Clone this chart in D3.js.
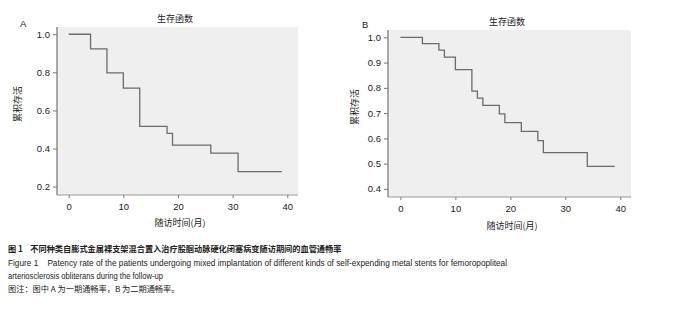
<!DOCTYPE html>
<html>
<head>
<meta charset="utf-8">
<script src="https://cdn.jsdelivr.net/npm/d3@7"></script>
<style>
  body { margin: 0; background: #fff; }
  svg { display: block; font-family: "Liberation Sans", Arial, sans-serif; }
  .cjk { font-family: "Noto Sans CJK SC", sans-serif; }
</style>
</head>
<body>
<svg id="chart"></svg>
<script>
const width = 677;
const height = 311;

// panel A: first-stage patency (time in months, cumulative survival)
const timesA = [0, 4, 7, 10, 13, 18, 19, 26, 31, 39];
const survA  = [1.0, 0.923, 0.797, 0.717, 0.516, 0.48, 0.418, 0.376, 0.279, 0.279];
const yTicksA = [0.2, 0.4, 0.6, 0.8, 1.0];

// panel B: second-stage patency
const timesB = [0, 4, 7, 8, 10, 13, 14, 15, 18, 19, 22, 25, 26, 34, 39];
const survB  = [1.0, 0.975, 0.949, 0.922, 0.872, 0.787, 0.759, 0.731, 0.697, 0.662, 0.628, 0.591, 0.544, 0.489, 0.489];
const yTicksB = [0.4, 0.5, 0.6, 0.7, 0.8, 0.9, 1.0];

const xTicks = [0, 10, 20, 30, 40];

const title = "生存函数";
const yLabel = "累积存活";
const xLabel = "随访时间(月)";

const svg = d3.select("#chart")
  .attr("width", width)
  .attr("height", height);

function drawPanel(opt) {
  const g = svg.append("g");
  const x = d3.scaleLinear().domain(opt.xDomain).range([opt.left, opt.right]);
  const y = d3.scaleLinear().domain(opt.yDomain).range([opt.bottom, opt.top]);

  // plot background
  g.append("rect")
    .attr("x", opt.left).attr("y", opt.top)
    .attr("width", opt.right - opt.left)
    .attr("height", opt.bottom - opt.top)
    .attr("fill", "#efefef");

  // y axis
  const yAxis = g.append("g")
    .attr("transform", `translate(${opt.left},0)`)
    .call(d3.axisLeft(y).tickValues(opt.yTicks).tickFormat(d3.format(".1f")).tickSize(4).tickPadding(3));
  yAxis.select(".domain").attr("stroke", "#a8a8a8").attr("stroke-width", 2)
    .attr("d", `M0,${opt.top}V${opt.bottom}`);
  yAxis.selectAll(".tick line").attr("stroke", "#777");
  yAxis.selectAll(".tick text").attr("fill", "#222").attr("font-size", 9.5)
    .attr("font-family", "Liberation Sans, Arial, sans-serif");

  // x axis
  const xAxis = g.append("g")
    .attr("transform", `translate(0,${opt.bottom})`)
    .call(d3.axisBottom(x).tickValues(xTicks).tickSize(3).tickPadding(5));
  xAxis.select(".domain").attr("stroke", "#999").attr("stroke-width", 1)
    .attr("d", `M${opt.left},0H${opt.right}`);
  xAxis.selectAll(".tick line").attr("stroke", "#777");
  xAxis.selectAll(".tick text").attr("fill", "#222").attr("font-size", 9.5)
    .attr("font-family", "Liberation Sans, Arial, sans-serif");

  // step survival curve
  const pts = opt.times.map((t, i) => [t, opt.surv[i]]);
  const line = d3.line()
    .x(d => x(d[0]))
    .y(d => y(d[1]))
    .curve(d3.curveStepAfter);
  g.append("path")
    .datum(pts)
    .attr("fill", "none")
    .attr("stroke", "#6c6c6c")
    .attr("stroke-width", 1.3)
    .attr("d", line);

  // texts
  g.append("text")
    .attr("class", "cjk")
    .attr("x", opt.titleX).attr("y", opt.titleY)
    .attr("text-anchor", "middle")
    .attr("font-size", 9)
    .attr("fill", "#222")
    .text(title);

  g.append("text")
    .attr("x", opt.letterX).attr("y", opt.letterY)
    .attr("font-size", 9.5)
    .attr("fill", "#222")
    .text(opt.letter);

  g.append("text")
    .attr("class", "cjk")
    .attr("transform", `translate(${opt.yLabX},${opt.yLabY}) rotate(-90)`)
    .attr("text-anchor", "middle")
    .attr("font-size", 9)
    .attr("fill", "#222")
    .text(yLabel);

  g.append("text")
    .attr("class", "cjk")
    .attr("x", opt.xLabX).attr("y", opt.xLabY)
    .attr("text-anchor", "middle")
    .attr("font-size", 9)
    .attr("fill", "#222")
    .text(xLabel);
}

drawPanel({
  letter: "A",
  times: timesA, surv: survA, yTicks: yTicksA,
  xDomain: [-2.14, 41.96], yDomain: [0.156, 1.038],
  left: 57, right: 298, top: 27, bottom: 195,
  titleX: 175, titleY: 22, letterX: 20, letterY: 27,
  yLabX: 21, yLabY: 104, xLabX: 180, xLabY: 226
});

drawPanel({
  letter: "B",
  times: timesB, surv: survB, yTicks: yTicksB,
  xDomain: [-2.26, 41.95], yDomain: [0.368, 1.029],
  left: 388, right: 631, top: 30, bottom: 197,
  titleX: 507, titleY: 25, letterX: 362, letterY: 28,
  yLabX: 358, yLabY: 107, xLabX: 512, xLabY: 229
});

// caption
const caption = svg.append("g").attr("fill", "#222");
caption.append("text")
  .attr("class", "cjk")
  .attr("x", 8).attr("y", 252)
  .attr("font-size", 8.2)
  .attr("font-weight", "bold")
  .attr("xml:space", "preserve")
  .text("图 1    不同种类自膨式金属裸支架混合置入治疗股腘动脉硬化闭塞病变随访期间的血管通畅率");
caption.append("text")
  .attr("x", 8).attr("y", 266)
  .attr("font-size", 8.6)
  .attr("xml:space", "preserve")
  .attr("textLength", 499)
  .attr("lengthAdjust", "spacingAndGlyphs")
  .text("Figure 1    Patency rate of the patients undergoing mixed implantation of different kinds of self-expending metal stents for femoropopliteal");
caption.append("text")
  .attr("x", 8).attr("y", 279)
  .attr("font-size", 8.6)
  .attr("textLength", 155)
  .attr("lengthAdjust", "spacingAndGlyphs")
  .text("arteriosclerosis obliterans during the follow-up");
caption.append("text")
  .attr("class", "cjk")
  .attr("x", 8).attr("y", 292)
  .attr("font-size", 8.2)
  .text("图注：图中 A 为一期通畅率，B 为二期通畅率。");
</script>
</body>
</html>
